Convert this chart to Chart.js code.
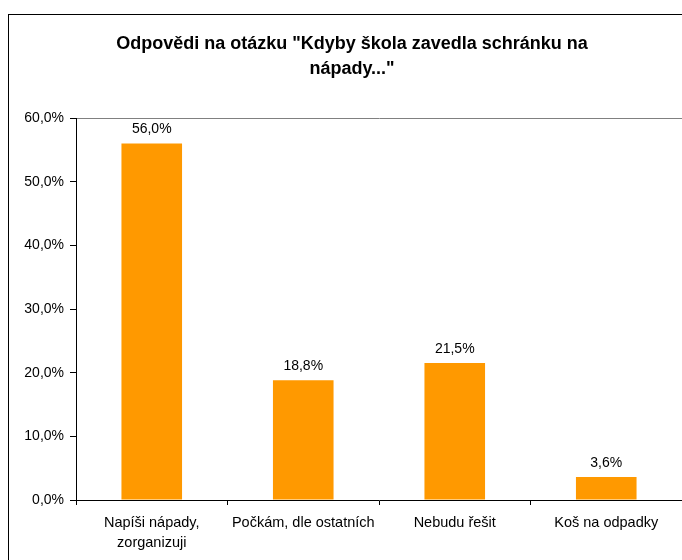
<!DOCTYPE html>
<html>
<head>
<meta charset="utf-8">
<script src="https://cdn.jsdelivr.net/npm/chart.js@4.4.1/dist/chart.umd.min.js"></script>
<style>
  html, body { margin: 0; padding: 0; background: #fff; }
  #wrap { position: relative; width: 682px; height: 560px; overflow: hidden; }
</style>
</head>
<body>
<div id="wrap"><canvas id="chart" width="682" height="560"></canvas></div>
<script>
// data
var categories = [["Napíši nápady,", "zorganizuji"], "Počkám, dle ostatních", "Nebudu řešit", "Koš na odpadky"];
var answerShares = [56.0, 18.8, 21.5, 3.6];
var titleLines = ['Odpovědi na otázku "Kdyby škola zavedla schránku na', 'nápady..."'];

function pct(v) {
    return Number(v).toFixed(1).replace('.', ',') + '%';
}

var fontFamily = "'Liberation Sans', Arial, sans-serif";

// outer frame, white background and the title (centred on the frame, not the canvas)
var framePlugin = {
    id: 'frame',
    beforeDraw: function (chart) {
        var c = chart.ctx;
        c.save();
        c.fillStyle = '#fff';
        c.fillRect(0, 0, chart.width, chart.height);
        c.strokeStyle = '#000';
        c.lineWidth = 1;
        c.strokeRect(8.5, 14.5, 720, 600);

        c.fillStyle = '#000';
        c.font = 'bold 18px ' + fontFamily;
        c.textAlign = 'center';
        c.textBaseline = 'alphabetic';
        titleLines.forEach(function (line, i) {
            c.fillText(line, 352, 49 + i * 25);
        });
        c.restore();
    }
};

// value labels over the bars
var valueLabels = {
    id: 'valueLabels',
    afterDatasetsDraw: function (chart) {
        var c = chart.ctx;
        var meta = chart.getDatasetMeta(0);
        c.save();
        c.font = '14px ' + fontFamily;
        c.fillStyle = '#000';
        c.textAlign = 'center';
        c.textBaseline = 'alphabetic';
        meta.data.forEach(function (bar, i) {
            c.fillText(pct(chart.data.datasets[0].data[i]), bar.x, bar.y - 10);
        });
        c.restore();
    }
};

var ctx = document.getElementById('chart').getContext('2d');
new Chart(ctx, {
    type: 'bar',
    data: {
        labels: categories,
        datasets: [{
            data: answerShares,
            backgroundColor: '#FF9900',
            borderWidth: 0,
            barPercentage: 0.4,
            categoryPercentage: 1.0
        }]
    },
    options: {
        responsive: false,
        animation: false,
        layout: { padding: { left: 0, right: 0, top: 118, bottom: 0 } },
        plugins: {
            legend: { display: false },
            tooltip: { enabled: false },
            title: { display: false }
        },
        scales: {
            x: {
                afterFit: function (scale) { scale.height = 60; },
                border: { color: '#000', width: 1 },
                grid: {
                    offset: true,
                    drawOnChartArea: false,
                    tickLength: 5,
                    tickColor: '#000'
                },
                ticks: {
                    color: '#000',
                    padding: 8,
                    maxRotation: 0,
                    autoSkip: false,
                    font: { family: fontFamily, size: 14.5, lineHeight: 1.4 }
                }
            },
            y: {
                min: 0,
                max: 60,
                afterFit: function (scale) { scale.width = 76; },
                border: { color: '#000', width: 1 },
                grid: {
                    color: function (c) { return c.tick && c.tick.value === 60 ? '#808080' : 'rgba(0,0,0,0)'; },
                    tickColor: '#000',
                    tickLength: 6
                },
                ticks: {
                    stepSize: 10,
                    color: '#000',
                    padding: 6,
                    font: { family: fontFamily, size: 14 },
                    callback: function (v) { return pct(v); }
                }
            }
        }
    },
    plugins: [framePlugin, valueLabels]
});
</script>
</body>
</html>
